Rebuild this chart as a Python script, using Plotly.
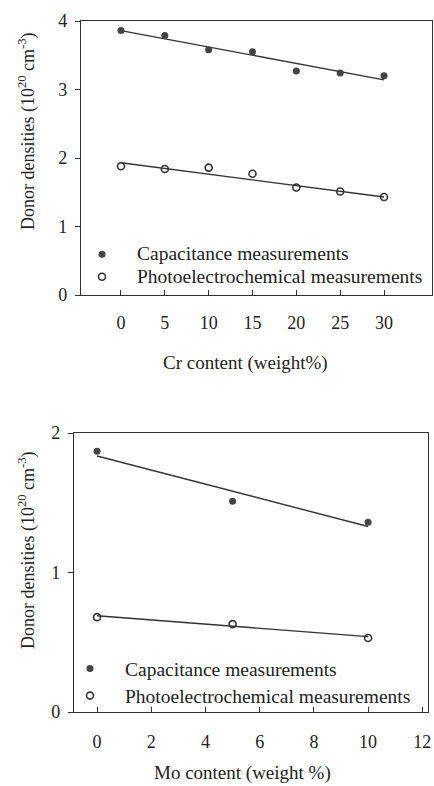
import plotly.graph_objects as go

# ---- data: Cr series (top panel)
cr_content = [0, 5, 10, 15, 20, 25, 30]
cr_capacitance = [3.86, 3.79, 3.58, 3.55, 3.27, 3.24, 3.20]
cr_photo = [1.88, 1.84, 1.86, 1.77, 1.57, 1.51, 1.43]
cr_fit_x = [0, 30]
cr_cap_fit = [3.86, 3.14]
cr_photo_fit = [1.93, 1.43]
cr_ticks = [0, 5, 10, 15, 20, 25, 30]
cr_yticks = [0, 1, 2, 3, 4]

# ---- data: Mo series (bottom panel)
mo_content = [0, 5, 10]
mo_capacitance = [1.87, 1.51, 1.36]
mo_photo = [0.68, 0.63, 0.53]
mo_fit_x = [0, 10]
mo_cap_fit = [1.835, 1.33]
mo_photo_fit = [0.69, 0.54]
mo_ticks = [0, 2, 4, 6, 8, 10, 12]
mo_yticks = [0, 1, 2]

FONT = "Liberation Serif, Times New Roman, DejaVu Serif, serif"
INK = "#222222"
LINE = "#333333"
DOT = "#444444"

W, H = 434, 786

fig = go.Figure()

def add_panel(xa, ya, legend, xs, cap, ph, fx, fcap, fph):
    fig.add_trace(go.Scatter(x=fx, y=fcap, mode="lines", line=dict(color=LINE, width=1.4),
                             xaxis=xa, yaxis=ya, showlegend=False, hoverinfo="skip"))
    fig.add_trace(go.Scatter(x=fx, y=fph, mode="lines", line=dict(color=LINE, width=1.4),
                             xaxis=xa, yaxis=ya, showlegend=False, hoverinfo="skip"))
    fig.add_trace(go.Scatter(x=xs, y=cap, mode="markers",
                             name='<span style="font-size:19.5px">Capacitance measurements</span>',
                             marker=dict(symbol="circle", size=7, color=DOT),
                             xaxis=xa, yaxis=ya, legend=legend))
    fig.add_trace(go.Scatter(x=xs, y=ph, mode="markers",
                             name='<span style="font-size:19.5px">Photoelectrochemical measurements</span>',
                             marker=dict(symbol="circle-open", size=7, color=LINE, line=dict(width=1.6)),
                             xaxis=xa, yaxis=ya, legend=legend))

add_panel("x", "y", "legend", cr_content, cr_capacitance, cr_photo, cr_fit_x, cr_cap_fit, cr_photo_fit)
add_panel("x2", "y2", "legend2", mo_content, mo_capacitance, mo_photo, mo_fit_x, mo_cap_fit, mo_photo_fit)

def px_x(p):
    return p / W

def px_y(p):
    return 1 - p / H

axis_common = dict(showgrid=False, zeroline=False, showline=True, linecolor=LINE, linewidth=1.3,
                   mirror=True, tickcolor=LINE, tickwidth=1.2, ticklen=5, automargin=False,
                   tickfont=dict(family=FONT, size=18, color=INK))

fig.update_layout(
    template="none",
    width=W, height=H, margin=dict(l=0, r=0, t=0, b=0, pad=0), autosize=False,
    paper_bgcolor="white", plot_bgcolor="white",
    xaxis=dict(domain=[px_x(81), px_x(432)], range=[-4.56, 35.47], anchor="y",
               tickvals=cr_ticks, ticks="inside", ticklabelstandoff=11, **axis_common),
    yaxis=dict(domain=[px_y(295), px_y(21)], range=[0, 4], anchor="x",
               tickvals=cr_yticks, ticks="outside", ticklabelstandoff=4, **axis_common),
    xaxis2=dict(domain=[px_x(74), px_x(428)], range=[-0.85, 12.21], anchor="y2",
                tickvals=mo_ticks, ticks="inside", ticklabelstandoff=13, **axis_common),
    yaxis2=dict(domain=[px_y(712), px_y(433)], range=[0, 2], anchor="x2",
                tickvals=mo_yticks, ticks="outside", ticklabelstandoff=4, **axis_common),
    legend=dict(x=px_x(67), y=px_y(238), xanchor="left", yanchor="top", itemwidth=60,
                bgcolor="rgba(0,0,0,0)", font=dict(family=FONT, size=15, color=INK),
                tracegroupgap=0),
    legend2=dict(x=px_x(55), y=px_y(650), xanchor="left", yanchor="top", itemwidth=60,
                 bgcolor="rgba(0,0,0,0)", font=dict(family=FONT, size=18.5, color=INK),
                 tracegroupgap=0),
    showlegend=True,
)

ann_font = dict(family=FONT, size=19, color=INK)
common_ann = dict(xref="paper", yref="paper", showarrow=False, font=ann_font,
                  xanchor="center", yanchor="middle")
ytitle_font = dict(family=FONT, size=18, color=INK)
fig.add_annotation(text="Donor densities (10<sup>20</sup> cm<sup>-3</sup>)", textangle=-90,
                   x=px_x(27), y=px_y(131), **{**common_ann, "font": ytitle_font})
fig.add_annotation(text="Donor densities (10<sup>20</sup> cm<sup>-3</sup>)", textangle=-90,
                   x=px_x(27), y=px_y(550), **{**common_ann, "font": ytitle_font})
fig.add_annotation(text="Cr content (weight%)", x=px_x(245), y=px_y(363), **common_ann)
fig.add_annotation(text="Mo content (weight %)", x=px_x(243), y=px_y(773), **common_ann)

fig.write_html("out.html", config={"displayModeBar": False},
               post_script="document.body.style.margin='0px';")
